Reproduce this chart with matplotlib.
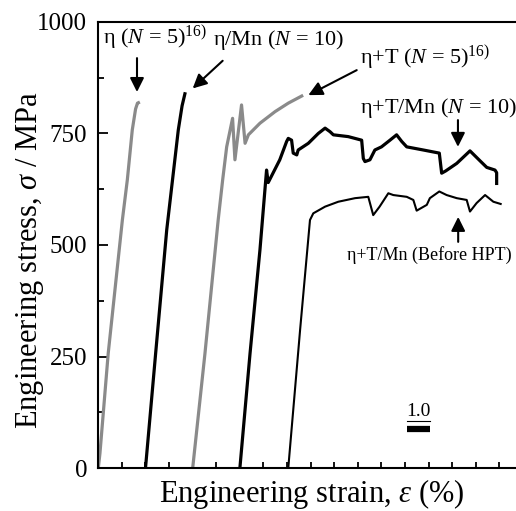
# %% Imports
import matplotlib
matplotlib.use('Agg')
import matplotlib.pyplot as plt
from matplotlib.ticker import MultipleLocator, NullFormatter

plt.rcParams['font.family'] = 'Liberation Serif'
plt.rcParams['mathtext.fontset'] = 'custom'
plt.rcParams['mathtext.rm'] = 'Liberation Serif'
plt.rcParams['mathtext.it'] = 'Liberation Serif:italic'

# %% Stress-strain data (curves are offset along strain for clarity)
eta_strain = [0, 0.07, 0.42, 1.02, 1.23, 1.44, 1.58, 1.66, 1.70]
eta_stress = [0, 33, 257, 556, 646, 758, 805, 818, 819]

eta_mn_strain = [2.0, 2.43, 2.90, 3.39, 3.55, 3.67]
eta_mn_stress = [0, 257, 534, 758, 812, 839]

eta_t_strain = [4.0, 4.52, 5.08, 5.27, 5.44, 5.69, 5.79, 6.07, 6.22, 6.36,
                6.85, 7.49, 8.05, 8.62]
eta_t_stress = [0, 257, 556, 646, 720, 784, 691, 814, 728, 747,
                773, 799, 818, 834]

eta_t_mn_strain = [6.0, 6.43, 6.85, 7.13, 7.20, 7.69, 7.98, 8.05, 8.19, 8.26,
                   8.41, 8.47, 8.90, 9.11, 9.32, 9.61, 9.82, 9.96, 10.59, 11.16,
                   11.23, 11.30, 11.51, 11.72, 12.00, 12.36, 12.64, 12.86, 13.07, 13.77,
                   14.45, 14.55, 14.72, 15.19, 15.75, 16.17, 16.46, 16.81, 16.88, 16.88]
eta_t_mn_stress = [0, 257, 489, 668, 640, 691, 732, 739, 735, 706,
                   702, 713, 728, 739, 750, 762, 754, 747, 743, 735,
                   694, 687, 691, 713, 720, 735, 747, 732, 720, 713,
                   706, 661, 666, 683, 711, 689, 674, 668, 662, 638]

before_hpt_strain = [8.05, 8.55, 8.97, 9.11, 9.61, 10.17, 10.88, 11.44, 11.65, 11.92,
                     12.29, 12.50, 13.07, 13.35, 13.49, 13.92, 14.05, 14.45, 14.76, 15.19,
                     15.61, 15.75, 16.03, 16.39, 16.74, 17.05]
before_hpt_stress = [0, 309, 556, 571, 586, 597, 605, 608, 567, 586,
                     616, 612, 608, 601, 577, 590, 605, 620, 612, 605,
                     601, 575, 594, 612, 597, 592]

GRAY = '#8a8a8a'

# %% Figure
fig = plt.figure(figsize=(5.16, 5.11), dpi=100)
ax = fig.add_axes([0.1905, 0.0841, 0.8095, 0.8729])

ax.plot(eta_strain, eta_stress, color=GRAY, lw=2.3)
ax.plot(eta_mn_strain, eta_mn_stress, color='k', lw=2.3)
ax.plot(eta_t_strain, eta_t_stress, color=GRAY, lw=2.3)
ax.plot(eta_t_mn_strain, eta_t_mn_stress, color='k', lw=2.3)
ax.plot(before_hpt_strain, before_hpt_stress, color='k', lw=1.5)

ax.set_xlim(0, 17.7)
ax.set_ylim(0, 1000)
ax.spines['right'].set_visible(False)
for side in ['left', 'bottom', 'top']:
    ax.spines[side].set_linewidth(1.5)

ax.xaxis.set_major_locator(MultipleLocator(1.0))
ax.xaxis.set_major_formatter(NullFormatter())
ax.yaxis.set_major_locator(MultipleLocator(250))
ax.yaxis.set_minor_locator(MultipleLocator(125))
ax.tick_params(axis='x', which='major', direction='in', length=4, width=1.3)
ax.tick_params(axis='y', which='major', direction='in', length=7.5, width=1.3,
               labelsize=18, pad=8)
ax.tick_params(axis='y', which='minor', direction='in', length=4.5, width=1.3)

fig.text(0.605, 1 - 494 / 511, r'Engineering strain, $\varepsilon$ (%)',
         ha='center', va='center', fontsize=22)
fig.text(30 / 516, 1 - 260 / 511, r'Engineering stress, $\sigma$ / MPa',
         ha='center', va='center', rotation=90, fontsize=22)

# %% Labels and arrows
labels = [
    (r'η ($N$ = 5)$^{16)}$', 0.2, 948, 16),
    (r'η/Mn ($N$ = 10)', 4.87, 948, 16),
    (r'η+T ($N$ = 5)$^{16)}$', 11.08, 904, 16),
    (r'η+T/Mn ($N$ = 10)', 11.08, 796, 16),
    (r'η+T/Mn (Before HPT)', 10.55, 466, 13),
]
for txt, x, y, size in labels:
    ax.text(x, y, txt, fontsize=size, ha='left', va='baseline', clip_on=False)

arrows = [
    ((1.64, 919), (1.64, 843)),
    ((5.27, 913), (4.0, 851)),
    ((10.95, 892), (8.9, 836)),
    ((15.24, 780), (15.24, 720)),
    ((15.25, 507), (15.25, 563)),
]
for tail, tip in arrows:
    ax.annotate('', xy=tip, xytext=tail,
                arrowprops=dict(arrowstyle='-|>', color='k', lw=1.5,
                                mutation_scale=21, shrinkA=0, shrinkB=0))

# scale bar for 1.0 % strain
ax.plot([13.07, 14.07], [88, 88], color='k', lw=4.5, solid_capstyle='butt')
ax.plot([13.07, 14.07], [106, 106], color='k', lw=0.8)
ax.text(13.57, 108, '1.0', fontsize=14, ha='center', va='bottom')

fig.savefig('out.png', dpi=100)
